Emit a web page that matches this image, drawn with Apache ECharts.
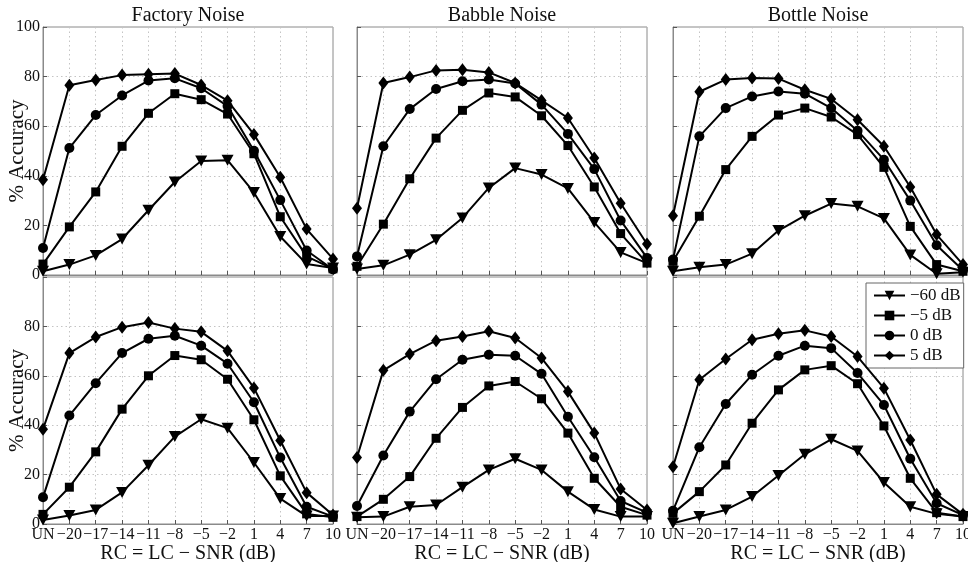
<!DOCTYPE html>
<html><head><meta charset="utf-8">
<script src="https://cdn.jsdelivr.net/npm/echarts@6/dist/echarts.min.js"></script>
<style>html,body{margin:0;padding:0;background:#fff}#c{width:968px;height:562px}</style>
</head><body><div id="c"></div>
<script>
const categories = ['UN','\u221220','\u221217','\u221214','\u221211','\u22128','\u22125','\u22122','1','4','7','10'];
const seriesNames = ['\u221260 dB','\u22125 dB','0 dB','5 dB'];
const panelTitles = ['Factory Noise','Babble Noise','Bottle Noise'];
const yTicks = [0,20,40,60,80,100];

// each panel: [-60 dB, -5 dB, 0 dB, 5 dB]
const factoryTop = [
  [1.5,4.2,7.9,14.5,26.1,37.5,46,46.3,33.3,15.5,4.4,2.8],
  [4.4,19.4,33.5,51.9,65.2,73.1,70.7,64.9,48.9,23.5,7.5,2.5],
  [10.9,51.2,64.5,72.4,78.4,79.3,75.3,68.1,50.1,30.2,9.9,2.2],
  [38.4,76.5,78.6,80.6,80.9,81.2,76.6,70.3,56.7,39.4,18.5,6.5]
];
const babbleTop = [
  [2.4,3.9,8.2,14.2,23,35.1,43.1,40.5,34.9,21.2,9.1,4.8],
  [3.5,20.5,38.8,55.2,66.4,73.4,71.8,64.2,52.2,35.5,16.7,4.8],
  [7.5,51.9,66.9,75,78.1,78.8,77.2,68.7,56.9,42.7,22,6.9],
  [26.9,77.4,79.8,82.5,82.8,81.7,77.4,70.4,63.3,47.2,28.9,12.5]
];
const bottleTop = [
  [1.5,3.1,4.2,8.6,17.9,23.9,28.8,27.7,22.8,8.1,0.5,1.1],
  [5.5,23.7,42.5,55.9,64.5,67.3,63.7,56.6,43.4,19.6,4.2,1.5],
  [6.2,55.9,67.3,72,74,73.1,67.3,58.2,46.5,30,12,1.9],
  [23.9,73.9,78.8,79.4,79.2,74.7,71,62.6,51.9,35.5,16.3,4.2]
];
const factoryBottom = [
  [1.6,3.4,5.7,12.8,23.8,35.4,42.4,38.8,24.9,10.3,3.2,3.2],
  [3.9,14.9,29.2,46.5,60,68.2,66.5,58.6,42.2,19.5,4.1,2.7],
  [10.8,43.9,57,69.2,75,76.2,72.2,64.9,49.3,26.9,7,3],
  [38.4,69.2,75.7,79.7,81.6,79.1,77.8,70.1,55.1,33.8,12.7,3.6]
];
const babbleBottom = [
  [2.7,3,7,7.7,14.9,21.9,26.4,21.9,13.1,5.9,3,3],
  [3,10,19.2,34.7,47.2,55.9,57.7,50.7,36.8,18.5,7,3.6],
  [7.3,27.7,45.5,58.6,66.5,68.5,68.1,60.8,43.4,27,9.3,4.6],
  [26.9,62.2,68.8,74.2,75.9,78,75.3,67.2,53.6,36.8,14.2,5.7]
];
const bottleBottom = [
  [0.3,3,5.7,11.1,19.6,28.2,34.3,29.6,16.8,7,4.1,3],
  [4.3,13.1,23.9,40.8,54.3,62.4,64.1,56.8,39.7,18.5,4.6,3],
  [5.4,31.1,48.6,60.4,68.1,72.2,71.2,61.1,48.2,26.4,8.4,3.6],
  [23.2,58.4,66.8,74.6,77,78.4,75.9,67.8,55,34,12,3.9]
];

const panels = [factoryTop, babbleTop, bottleTop, factoryBottom, babbleBottom, bottleBottom];
const FONT = 'Liberation Serif';
const symbols = ['triangle','rect','circle','diamond'];
const symSizes = [[12,11],9,10,[10,13]];
const symRot = [180,0,0,0];

const lefts = [43, 357, 673];
const tops = [27, 277];
const W = 290, H = [248, 247];

const grids = [], xAxes = [], yAxes = [], series = [], titleArr = [];
panels.forEach((p, i) => {
  const row = Math.floor(i / 3), col = i % 3;
  grids.push({left: lefts[col], top: tops[row], width: W, height: H[row],
    outerBoundsMode: 'none', containLabel: false,
    show: true, borderColor: '#8a8a8a', borderWidth: 1, backgroundColor: '#fff'});
  xAxes.push({type: 'category', gridIndex: i, data: categories, boundaryGap: false,
    axisLine: {show: true, lineStyle: {color: '#8a8a8a'}},
    axisTick: {show: true, inside: true, length: 4, lineStyle: {color: '#555'}},
    axisLabel: {show: row === 1, interval: 0, hideOverlap: false, margin: 3, fontFamily: FONT, fontSize: 16, color: '#111'},
    splitLine: {show: true, lineStyle: {color: '#c4c4c4', type: [1.5, 3], width: 1}},
    name: row === 1 ? 'RC = LC \u2212 SNR (dB)' : '', nameLocation: 'middle', nameGap: 16,
    nameTextStyle: {fontFamily: FONT, fontSize: 20, color: '#111', verticalAlign: 'top'}
  });
  yAxes.push({type: 'value', gridIndex: i, min: 0, max: 100, interval: 20,
    axisLine: {show: true, lineStyle: {color: '#8a8a8a'}},
    axisTick: {show: true, inside: true, length: 4, lineStyle: {color: '#555'}},
    axisLabel: {show: col === 0, margin: 3, fontFamily: FONT, fontSize: 16, color: '#111',
      formatter: v => (row === 1 && v === 100) ? '' : String(v)},
    splitLine: {show: true, lineStyle: {color: '#c4c4c4', type: [1.5, 3], width: 1}},
    name: col === 0 ? '% Accuracy' : '', nameLocation: 'middle', nameGap: 15, nameMoveOverlap: false,
    nameTextStyle: {fontFamily: FONT, fontSize: 21, color: '#111'}
  });
  p.forEach((vals, k) => {
    series.push({type: 'line', name: seriesNames[k], xAxisIndex: i, yAxisIndex: i,
      data: vals, symbol: symbols[k], symbolSize: symSizes[k], symbolRotate: symRot[k],
      showAllSymbol: true, z: 3 + k,
      lineStyle: {color: '#000', width: 2}, itemStyle: {color: '#000'}});
  });
  if (row === 0) {
    titleArr.push({text: panelTitles[col], left: lefts[col] + W / 2, top: 6, textAlign: 'center', padding: 0,
      textStyle: {fontFamily: FONT, fontSize: 20, fontWeight: 'normal', color: '#111'}});
  }
});

const chart = echarts.init(document.getElementById('c'), null, {renderer: 'canvas'});
chart.setOption({
  animation: false,
  backgroundColor: '#fff',
  title: titleArr,
  grid: grids, xAxis: xAxes, yAxis: yAxes, series: series,
  legend: {data: seriesNames, orient: 'vertical', left: 866, top: 283,
    itemWidth: 31, itemHeight: 12, itemGap: 3, padding: [4, 3, 4, 7],
    backgroundColor: '#fff', borderColor: '#666', borderWidth: 1,
    textStyle: {fontFamily: FONT, fontSize: 17, color: '#111'}}
});
</script></body></html>
